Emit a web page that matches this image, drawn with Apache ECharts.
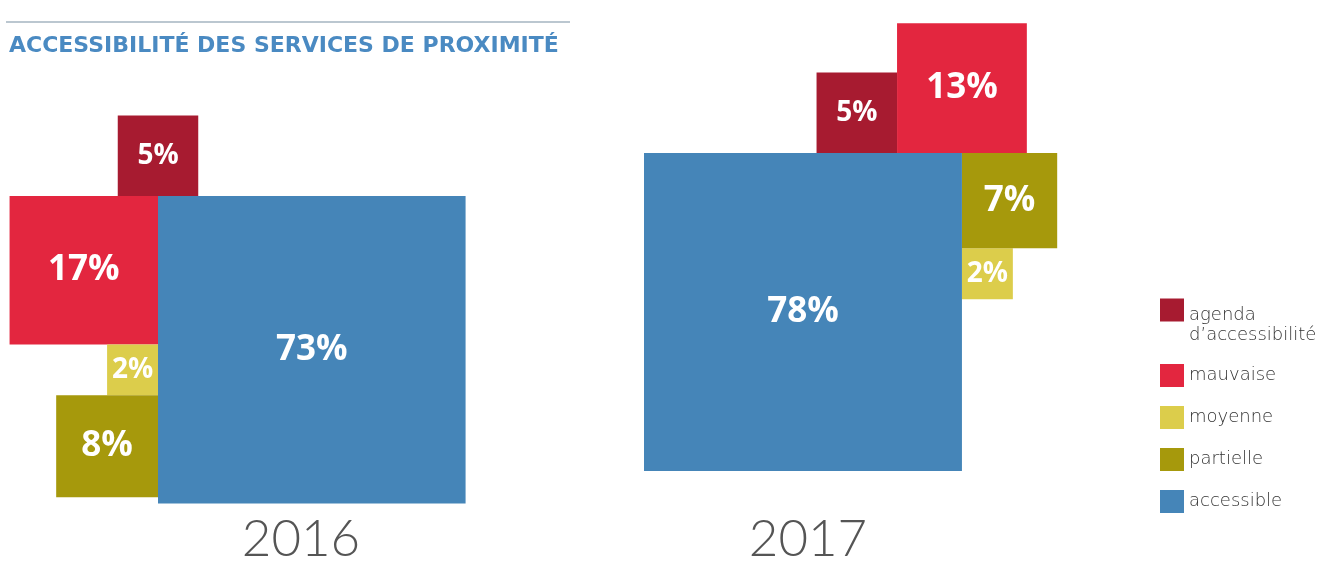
<!DOCTYPE html>
<html><head><meta charset="utf-8">
<script src="https://cdn.jsdelivr.net/npm/echarts@6/dist/echarts.min.js"></script>
<style>html,body{margin:0;padding:0;background:#fff}#c{width:1330px;height:564px}</style>
</head><body><div id="c"></div>
<script>
// ---- data ----
const chartTitle = 'ACCESSIBILITÉ DES SERVICES DE PROXIMITÉ';
const years = ['2016', '2017'];
const categories = ['agenda d’accessibilité', 'mauvaise', 'moyenne', 'partielle', 'accessible'];
const values2016 = [5, 17, 2, 8, 73];
const values2017 = [5, 13, 2, 7, 78];

// ---- style ----
const colors = ['#a71b30', '#e3263f', '#dccd4b', '#a6990c', '#4585b8'];

// square side (axis units) encodes value by area
const side = v => Math.sqrt(v);

// arrangement rules: each square placed against its neighbours
function layout2016(v) {
  const [g, m, y, p, a] = v.map(side);
  return [
    [-g / 2, -g, g],     // agenda: above, straddling the seam
    [-m, 0, m],          // mauvaise: left of accessible, top aligned
    [-y, m, y],          // moyenne: under mauvaise, right aligned
    [-p, m + y, p],      // partielle: under moyenne, right aligned
    [0, 0, a]            // accessible
  ];
}
function layout2017(v) {
  const [g, m, y, p, a] = v.map(side);
  return [
    [a - m / 2 - g, -g, g], // agenda: left of mauvaise, bottom aligned
    [a - m / 2, -m, m],     // mauvaise: above, centred on right edge
    [a, p, y],              // moyenne: under partielle
    [a, 0, p],              // partielle: right of accessible, top aligned
    [0, 0, a]               // accessible
  ];
}
const panels = [
  { values: values2016, rects: layout2016(values2016) },
  { values: values2017, rects: layout2017(values2017) }
];

function renderSquare(params, api) {
  const x = api.value(0), y = api.value(1), s = api.value(2), v = api.value(3);
  const p0 = api.coord([x, y]);
  const p1 = api.coord([x + s, y + s]);
  const w = Math.abs(p1[0] - p0[0]), h = Math.abs(p1[1] - p0[1]);
  const fs = w >= 90 ? 35 : 28;
  return {
    type: 'rect',
    shape: { x: Math.min(p0[0], p1[0]), y: Math.min(p0[1], p1[1]), width: w, height: h },
    style: { fill: api.visual('color') },
    textContent: {
      style: { text: v + '%', fill: '#fff', fontSize: fs, fontWeight: 'bold', fontFamily: 'Open Sans' }
    },
    textConfig: { position: 'inside' }
  };
}

const series = [];
panels.forEach((pn, pi) => {
  categories.forEach((c, i) => {
    const r = pn.rects[i];
    series.push({
      type: 'custom',
      name: c,
      xAxisIndex: pi,
      yAxisIndex: pi,
      itemStyle: { color: colors[i] },
      renderItem: renderSquare,
      data: [[r[0], r[1], r[2], pn.values[i]]],
      silent: true
    });
  });
});

const legendFont = { fontFamily: 'DejaVu Sans', fontWeight: 200, fontSize: 18, color: '#333', lineHeight: 20 };

const chart = echarts.init(document.getElementById('c'), null, { renderer: 'canvas' });
chart.setOption({
  animation: false,
  backgroundColor: '#fff',
  title: {
    text: chartTitle, left: 9, top: 35, padding: 0,
    textStyle: { fontFamily: 'DejaVu Sans', fontWeight: 'bold', fontSize: 22, color: '#4a8ac2' }
  },
  grid: [
    { left: 158, top: 196, width: 360, height: 360 },
    { left: 644, top: 153, width: 360, height: 360 }
  ],
  xAxis: [
    { gridIndex: 0, type: 'value', min: 0, max: 10, show: false },
    { gridIndex: 1, type: 'value', min: 0, max: 10, show: false }
  ],
  yAxis: [
    { gridIndex: 0, type: 'value', min: 0, max: 10, inverse: true, show: false },
    { gridIndex: 1, type: 'value', min: 0, max: 10, inverse: true, show: false }
  ],
  legend: {
    orient: 'vertical', left: 1160, top: 275, padding: 0,
    itemWidth: 24, itemHeight: 23, itemGap: 19, icon: 'rect', selectedMode: false,
    data: categories,
    formatter: n => {
      const parts = n.split(' d’');
      return parts.length > 1
        ? '{s| }\n{t|' + parts[0] + '}\n{t|d’' + parts[1] + '}'
        : '{t|' + n + '}';
    },
    textStyle: Object.assign({}, legendFont, {
      rich: { s: { lineHeight: 30, fontSize: 10 }, t: legendFont }
    })
  },
  graphic: [
    { type: 'line', shape: { x1: 6, y1: 22, x2: 570, y2: 22 }, style: { stroke: '#a5b4c0', lineWidth: 1.5 } },
    { type: 'text', x: 301, y: 514, style: { text: years[0], textAlign: 'center', fontFamily: 'Lato', fontWeight: 300, fontSize: 51, fill: '#555' } },
    { type: 'text', x: 808, y: 514, style: { text: years[1], textAlign: 'center', fontFamily: 'Lato', fontWeight: 300, fontSize: 51, fill: '#555' } }
  ],
  series: series
});
</script>
</body></html>
